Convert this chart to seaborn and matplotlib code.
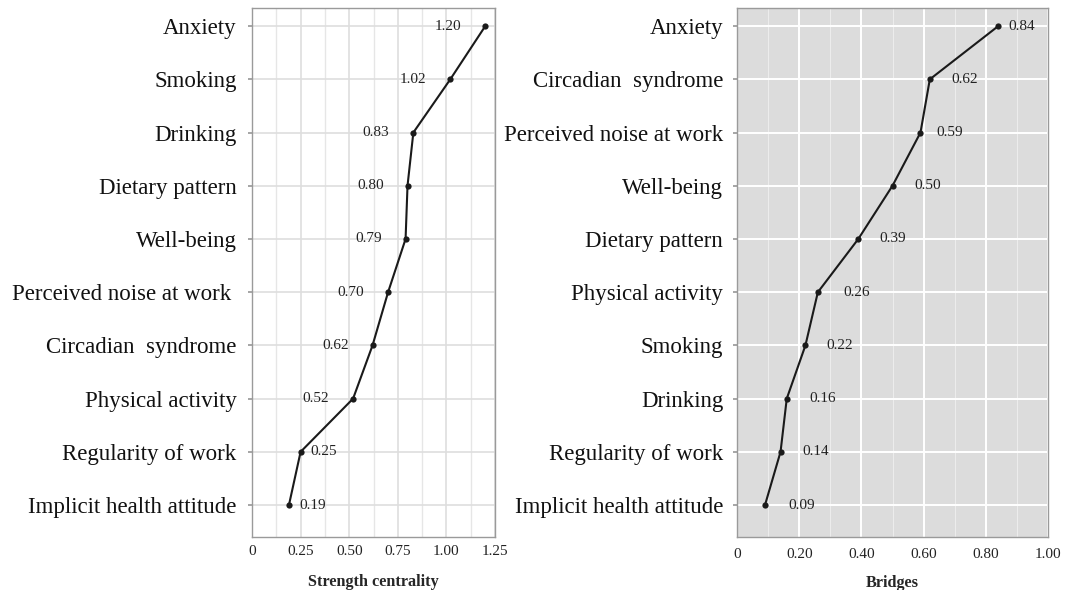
import numpy as np
import pandas as pd
import matplotlib
matplotlib.use("Agg")
import matplotlib.pyplot as plt
import seaborn as sns
from matplotlib.ticker import MultipleLocator

# ---- data ----
strength_nodes = ["Anxiety", "Smoking", "Drinking", "Dietary pattern", "Well-being",
                  "Perceived noise at work ", "Circadian  syndrome", "Physical activity",
                  "Regularity of work", "Implicit health attitude"]
strength_values = [1.20, 1.02, 0.83, 0.80, 0.79, 0.70, 0.62, 0.52, 0.25, 0.19]

bridge_nodes = ["Anxiety", "Circadian  syndrome", "Perceived noise at work", "Well-being",
                "Dietary pattern", "Physical activity", "Smoking", "Drinking",
                "Regularity of work", "Implicit health attitude"]
bridge_values = [0.84, 0.62, 0.59, 0.50, 0.39, 0.26, 0.22, 0.16, 0.14, 0.09]

strength_ticks = [0, 0.25, 0.50, 0.75, 1.00, 1.25]
strength_ticklabels = ["0", "0.25", "0.50", "0.75", "1.00", "1.25"]
bridge_ticks = [0, 0.2, 0.4, 0.6, 0.8, 1.0]
bridge_ticklabels = ["0", "0.20", "0.40", "0.60", "0.80", "1.00"]

sns.set_theme(style="white")
plt.rcParams['font.family'] = ['Liberation Serif', 'DejaVu Serif']

fig = plt.figure(figsize=(10.68, 5.90), dpi=100)
ax1 = fig.add_axes([252/1068, 1-537/590, (495-252)/1068, (537-8)/590])
ax2 = fig.add_axes([737/1068, 1-537/590, (1048-737)/1068, (537-8)/590])

df1 = pd.DataFrame({"value": strength_values, "pos": np.arange(len(strength_nodes))})
df2 = pd.DataFrame({"value": bridge_values, "pos": np.arange(len(bridge_nodes))})

line_kw = dict(sort=False, estimator=None, color="#1a1a1a", linewidth=1.5,
               marker="o", markersize=4.5, markeredgewidth=0)

sns.lineplot(data=df1, x="value", y="pos", ax=ax1, **line_kw)
sns.lineplot(data=df2, x="value", y="pos", ax=ax2, **line_kw)

# left panel styling
ax1.set_facecolor("white")
ax1.set_xlim(0, 1.25)
ax1.set_ylim(len(strength_nodes) - 0.4, -0.34)
ax1.set_xticks(strength_ticks, strength_ticklabels)
ax1.xaxis.set_minor_locator(MultipleLocator(0.125))
ax1.set_yticks(np.arange(len(strength_nodes)), strength_nodes)
ax1.grid(True, which="major", color="#dedede", linewidth=1.2)
ax1.grid(True, which="minor", axis="x", color="#e6e6e6", linewidth=1.0)
for s in ax1.spines.values():
    s.set_color("#9a9a9a")
    s.set_linewidth(1.0)
ax1.tick_params(axis="y", labelsize=16.5, pad=8, length=3, color="#9a9a9a", left=True)
ax1.tick_params(axis="x", labelsize=11, pad=6, length=0, colors="#222222")
ax1.tick_params(axis="x", which="minor", length=0)
ax1.set_xlabel("Strength centrality", fontsize=11.7, fontweight="bold", labelpad=11)
ax1.set_ylabel("")

offsets1 = [-24, -24, -24, -24, -24, -24, -24, -24, 10, 10]
for (v, p, o) in zip(strength_values, df1["pos"], offsets1):
    ax1.annotate(f"{v:.2f}", (v, p), xytext=(o, 0), textcoords="offset pixels",
                 ha="right" if o < 0 else "left", va="center", fontsize=11, color="#222222")

# right panel styling
ax2.set_facecolor("#dcdcdc")
ax2.set_xlim(0, 1.0)
ax2.set_ylim(len(bridge_nodes) - 0.4, -0.34)
ax2.set_xticks(bridge_ticks, bridge_ticklabels)
ax2.xaxis.set_minor_locator(MultipleLocator(0.1))
ax2.set_yticks(np.arange(len(bridge_nodes)), bridge_nodes)
ax2.grid(True, which="major", color="white", linewidth=1.4)
ax2.grid(True, which="minor", axis="x", color="#ececec", linewidth=0.8)
for s in ax2.spines.values():
    s.set_color("#9a9a9a")
    s.set_linewidth(1.0)
ax2.tick_params(axis="y", labelsize=16.5, pad=7, length=3, color="#9a9a9a", left=True)
ax2.tick_params(axis="x", labelsize=11, pad=8, length=0, colors="#222222")
ax2.tick_params(axis="x", which="minor", length=0)
ax2.set_xlabel("Bridges", fontsize=11.7, fontweight="bold", labelpad=10)
ax2.set_ylabel("")

offsets2 = [10, 22, 16, 22, 21, 26, 21, 23, 22, 23]
for (v, p, o) in zip(bridge_values, df2["pos"], offsets2):
    ax2.annotate(f"{v:.2f}", (v, p), xytext=(o, 0), textcoords="offset pixels",
                 ha="left", va="center", fontsize=11, color="#222222")

for a in (ax1, ax2):
    a.set_axisbelow(True)
    for lab in a.get_yticklabels():
        lab.set_color("#111111")

fig.savefig("out.png", dpi=100, facecolor="white")
